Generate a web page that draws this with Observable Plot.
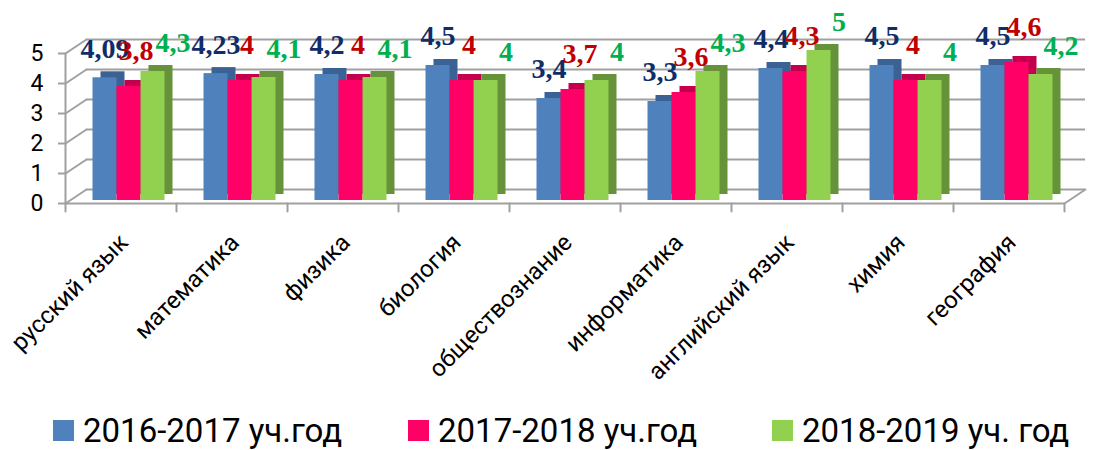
<!DOCTYPE html>
<html><head><meta charset="utf-8">
<script src="https://cdn.jsdelivr.net/npm/d3@7"></script>
<script src="https://cdn.jsdelivr.net/npm/@observablehq/plot@0.6"></script>
<style>
body{margin:0;background:#fff;}
#chart svg{overflow:visible;display:block;}
#legend{position:relative;width:1099px;height:55px;font-family:Roboto,"Liberation Sans",sans-serif;font-size:33px;color:#000;}
.item{position:absolute;top:19px;display:flex;align-items:center;line-height:1;white-space:nowrap;}
.sw{width:21px;height:21px;margin-right:9px;}
</style></head><body><div id="chart"></div><div id="legend"></div>
<script>
const subjects = ["русский язык","математика","физика","биология","обществознание","информатика","английский язык","химия","география"];
const years = ["2016-2017 уч.год","2017-2018 уч.год","2018-2019 уч. год"];
const v2016 = [4.09,4.23,4.2,4.5,3.4,3.3,4.4,4.5,4.5];
const v2017 = [3.8,4,4,4,3.7,3.6,4.3,4,4.6];
const v2018 = [4.3,4.1,4.1,4,4,4.3,5,4,4.2];
const yTicks = [0,1,2,3,4,5];

const barColors = ["#4f81bd","#ff0066","#92d050"];
const shadeColors = ["#3a6294","#c4004e","#66923a"];
const labelColors = ["#0f2d69","#c00000","#00b050"];
const gridColor = "#a0a0a0";

const series = [v2016, v2017, v2018];
const rows = subjects.flatMap((s,i) => years.map((y,j) => ({subject:s, year:y, value:series[j][i]})));
const fmt = v => String(v).replace(".", ",");
const line = {draw(ctx, l){ ctx.moveTo(0,0); ctx.lineTo(0,-l); }};

const labelDx = [7.5, 14.5, 27.5];
const labelDy = [-32, -38, -31];

const marks = [
  Plot.ruleY(yTicks, {stroke: gridColor, strokeWidth: 2, dx: 21, dy: -14}),
  Plot.vector(yTicks, {y: d=>d, fx: ()=>subjects[0], frameAnchor: "left", rotate: 56.3, length: 25.2, anchor: "start", shape: line, stroke: gridColor, strokeWidth: 2}),
  Plot.vector([0], {y: d=>d, fx: ()=>subjects[subjects.length-1], frameAnchor: "right", rotate: 56.3, length: 25.2, anchor: "start", shape: line, stroke: gridColor, strokeWidth: 2}),
  Plot.ruleY([0], {stroke: gridColor, strokeWidth: 2}),
  Plot.vector([subjects[0]], {fx: d=>d, frameAnchor: "bottom-left", rotate: 0, length: 150, anchor: "start", shape: line, stroke: gridColor, strokeWidth: 2}),
  Plot.vector(subjects, {fx: d=>d, frameAnchor: "bottom-left", rotate: 180, length: 8, anchor: "start", shape: line, stroke: gridColor, strokeWidth: 2}),
  Plot.vector([subjects[subjects.length-1]], {fx: d=>d, frameAnchor: "bottom-right", rotate: 180, length: 8, anchor: "start", shape: line, stroke: gridColor, strokeWidth: 2}),
  Plot.axisY({ticks: yTicks, tickSize: 7, tickPadding: 15, fontSize: 23, stroke: gridColor, strokeWidth: 2, fill: "#000", label: null, tickFormat: d=>String(d)}),
  Plot.axisFx({anchor: "bottom", tickRotate: -45, tickSize: 0, tickPadding: 35, dx: 3, fontSize: 24, label: null, fill: "#000"})
];
years.forEach((yr,j) => {
  marks.push(Plot.barY(rows.filter(d=>d.year===yr), {fx:"subject", x:"year", y:"value", fill: shadeColors[j], dx: 15.5, dy: -9}));
});
years.forEach((yr,j) => {
  marks.push(Plot.barY(rows.filter(d=>d.year===yr), {fx:"subject", x:"year", y:"value", fill: barColors[j], dx: 7.5, dy: -3}));
});
years.forEach((yr,j) => {
  marks.push(Plot.text(rows.filter(d=>d.year===yr), {fx:"subject", x:"year", y:"value", text: d=>fmt(d.value), fill: labelColors[j], dx: labelDx[j], dy: labelDy[j], fontSize: 28, fontWeight: "bold", fontFamily: "'Liberation Serif','Times New Roman',serif"}));
});

const chart = Plot.plot({
  width: 1099, height: 395,
  marginLeft: 62, marginRight: 33, marginTop: 53, marginBottom: 192,
  style: {fontFamily: "Roboto, 'Liberation Sans', sans-serif", background: "#fff", color: "#000"},
  fx: {domain: subjects, padding: 0, label: null},
  x: {domain: years, paddingInner: 0, paddingOuter: 0.731, axis: null},
  y: {domain: [0,5], axis: null},
  marks
});
document.getElementById("chart").appendChild(chart);

const legendLeft = [53, 408, 772];
const legend = document.getElementById("legend");
years.forEach((yr,j) => {
  const it = document.createElement("div");
  it.className = "item";
  it.style.left = legendLeft[j] + "px";
  const sw = document.createElement("span");
  sw.className = "sw"; sw.style.background = barColors[j];
  const tx = document.createElement("span");
  tx.textContent = yr;
  it.appendChild(sw); it.appendChild(tx);
  legend.appendChild(it);
});
</script>
</body></html>
